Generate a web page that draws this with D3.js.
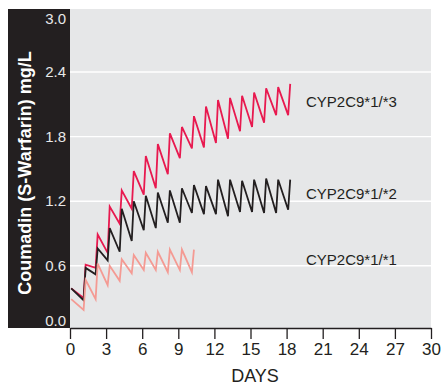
<!DOCTYPE html>
<html><head><meta http-equiv="Content-Type" content="text/html; charset=UTF-8">
    <!-- D3 from CDN -->
    <script src="https://cdn.jsdelivr.net/npm/d3@7"></script>
    <style>
      body { margin: 0; background: #ffffff; }
      text { font-family: "Liberation Sans", Arial, Helvetica, sans-serif; }
    </style>
</head>
<body>
<script type="text/javascript">
  "use strict";

  // Dose days (one dose per day), value right before dose = trough, right after = peak
  const doseDays = [1, 2, 3, 4, 5, 6, 7, 8, 9, 10, 11, 12, 13, 14, 15, 16, 17, 18];

  // CYP2C9*1/*3
  const start13 = 0.39;
  const trough13 = [0.30, 0.58, 0.72, 0.99, 1.13, 1.26, 1.32, 1.45, 1.60, 1.69, 1.70, 1.74, 1.78, 1.85, 1.89, 1.93, 2.00, 2.00];
  const peak13   = [0.61, 0.89, 1.15, 1.30, 1.48, 1.62, 1.73, 1.83, 1.89, 1.99, 2.08, 2.14, 2.16, 2.18, 2.21, 2.25, 2.26, 2.29];

  // CYP2C9*1/*2
  const start12 = 0.39;
  const trough12 = [0.28, 0.52, 0.65, 0.73, 0.83, 0.93, 0.95, 1.00, 1.00, 1.09, 1.08, 1.08, 1.06, 1.10, 1.10, 1.09, 1.09, 1.12];
  const peak12   = [0.58, 0.76, 0.95, 1.13, 1.20, 1.25, 1.28, 1.30, 1.32, 1.35, 1.34, 1.40, 1.40, 1.39, 1.40, 1.41, 1.40, 1.40];

  // CYP2C9*1/*1 (only 10 doses shown)
  const start11 = 0.29;
  const trough11 = [0.19, 0.29, 0.42, 0.46, 0.53, 0.56, 0.56, 0.54, 0.56, 0.54];
  const peak11   = [0.47, 0.62, 0.60, 0.66, 0.70, 0.72, 0.73, 0.75, 0.75, 0.75];

  const seriesNames = ["CYP2C9*1/*3", "CYP2C9*1/*2", "CYP2C9*1/*1"];
  const yTicks = [0.0, 0.6, 1.2, 1.8, 2.4, 3.0];
  const xTicks = [0, 3, 6, 9, 12, 15, 18, 21, 24, 27, 30];

  const width = 441, height = 386;
  const plot = {left: 70, right: 431, top: 9, bottom: 328};
  const startDay = 0.1, troughShift = 0.13, peakShift = 0.3;

  let svg = d3.select("body").append("svg")
      .attr("width", width)
      .attr("height", height);

  let x = d3.scaleLinear().domain([0, 30]).range([plot.left, plot.right]);
  let y = d3.scaleLinear().domain([0, 3]).range([330.3, 7.5]);

  // black panel behind the y axis
  svg.append("rect")
      .attr("x", 8).attr("y", plot.top)
      .attr("width", plot.left - 8).attr("height", plot.bottom - plot.top)
      .attr("fill", "#231f20");

  // grey plot area
  svg.append("rect")
      .attr("x", plot.left).attr("y", plot.top)
      .attr("width", plot.right - plot.left).attr("height", plot.bottom - plot.top)
      .attr("fill", "#e6e7e8");

  // white grid lines
  svg.append("g").selectAll("line")
      .data(yTicks.filter(d => d > 0 && d < 3))
      .enter().append("line")
      .attr("x1", plot.left).attr("x2", plot.right)
      .attr("y1", d => y(d)).attr("y2", d => y(d))
      .attr("stroke", "#ffffff")
      .attr("stroke-width", 1.4);

  // y axis labels (white on the black panel)
  let yAxis = svg.append("g")
      .attr("transform", "translate(" + (plot.left - 4) + ",0)")
      .call(d3.axisLeft(y).tickValues(yTicks).tickSize(0).tickPadding(0).tickFormat(d3.format(".1f")));
  yAxis.select(".domain").remove();
  yAxis.selectAll("text")
      .attr("fill", "#e8e8e8")
      .style("font-size", "15px")
      .attr("dy", d => d === 0 ? "-0.35em" : (d === 3 ? "1.05em" : "0.32em"));

  // y axis title
  svg.append("text")
      .attr("transform", "translate(31,173) rotate(-90)")
      .attr("text-anchor", "middle")
      .attr("fill", "#ffffff")
      .style("font-weight", "bold")
      .style("font-size", "18px")
      .text("Coumadin (S-Warfarin) mg/L");

  // x axis
  let xAxis = svg.append("g")
      .attr("transform", "translate(0," + plot.bottom + ")")
      .call(d3.axisBottom(x).tickValues(xTicks).tickSize(11).tickPadding(4).tickSizeOuter(0));
  xAxis.select(".domain").attr("stroke", "#231f20").attr("stroke-width", 1.6);
  xAxis.selectAll(".tick line").attr("stroke", "#231f20").attr("stroke-width", 1.3);
  xAxis.selectAll("text")
      .attr("fill", "#231f20")
      .style("font-size", "17px");

  svg.append("text")
      .attr("x", 255).attr("y", 382)
      .attr("text-anchor", "middle")
      .attr("fill", "#231f20")
      .style("font-size", "18px")
      .text("DAYS");

  // build the sawtooth points of one series
  function sawtooth(start, troughs, peaks) {
      let pts = [[startDay, start]];
      troughs.forEach(function (t, i) {
          pts.push([doseDays[i] + troughShift, t]);
          pts.push([doseDays[i] + peakShift, peaks[i]]);
      });
      return pts;
  }

  let line = d3.line().x(d => x(d[0])).y(d => y(d[1]));

  let series = [
      {name: seriesNames[0], pts: sawtooth(start13, trough13, peak13), color: "#e8194f", labelY: 107},
      {name: seriesNames[1], pts: sawtooth(start12, trough12, peak12), color: "#231f20", labelY: 199},
      {name: seriesNames[2], pts: sawtooth(start11, trough11, peak11), color: "#f49a93", labelY: 265}
  ];

  svg.append("g").selectAll("path")
      .data(series)
      .enter().append("path")
      .attr("d", d => line(d.pts))
      .attr("fill", "none")
      .attr("stroke", d => d.color)
      .attr("stroke-width", 1.8)
      .attr("stroke-linejoin", "miter");

  // series labels
  svg.append("g").selectAll("text")
      .data(series)
      .enter().append("text")
      .attr("x", 306)
      .attr("y", d => d.labelY)
      .attr("fill", "#231f20")
      .style("font-size", "15px")
      .text(d => d.name);
</script>
</body>
</html>
